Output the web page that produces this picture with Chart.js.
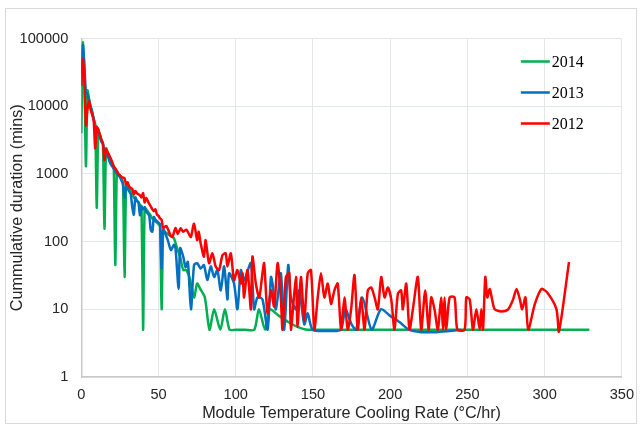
<!DOCTYPE html>
<html>
<head>
<meta charset="utf-8">
<script src="https://cdn.jsdelivr.net/npm/chart.js@4.4.1/dist/chart.umd.min.js"></script>
<style>
  html, body { margin: 0; padding: 0; background: #fff; }
  #wrap { width: 643px; height: 429px; }
</style>
</head>
<body>
<div id="wrap"><canvas id="chart" width="643" height="429"></canvas></div>
<script>
// Cumulative duration vs module temperature cooling rate, per year

const seriesLabels = ['2014', '2013', '2012'];
const seriesColors = ['#00b050', '#0070c0', '#ff0000'];

const xTicks = [0, 50, 100, 150, 200, 250, 300, 350];
const yTicks = [1, 10, 100, 1000, 10000, 100000];

const x2014 = [0,1,2,3,4,5,6,7,8,9,10,11,12,13,14,15,16,17,18,19,20,21,22,23,24,25,26,27,28,29,30,31,32,33,34,35,36,37,38,39,40,41,42,43,44,45,46,47,48,49,50,51,52,53,54,
  56,58,60,62,64,66,68,70,73,75,77,80,83,86,90,93,96,100,106,112,115,119,122,128,134,140,146,150,200,250,300,329];
const y2014 = [4000,87000,30000,1300,17000,13000,10000,8500,6500,5500,316,4500,3800,3200,2800,155,2400,2100,1800,1600,1400,1300,45,1100,1000,950,850,750,30,700,650,600,550,500,450,420,400,380,350,330,5,320,300,280,260,240,220,210,200,190,180,170,10,147,140,
  130,120,112,80,60,38,38,30,15,24,20,15,5,10,5,10,5,5,5,5,10,5,10,8,6.5,5.5,5,5,5,5,5,5];

const x2013 = [0,1,2,3,4,5,6,7,8,9,10,11,12,13,14,15,16,17,18,19,20,21,22,23,24,25,26,27,28,29,30,31,32,33,34,35,36,37,38,39,40,41,42,43,44,45,46,47,48,49,50,51,52,53,
  56,58,60,61,63,64,66,67.5,69,71,73,75,77.3,79.4,81.6,83.8,86,88.1,90.3,92.5,94.6,95.7,98.9,101.1,103.3,105.4,109.8,111.9,114.1,117.3,120.6,122.8,123.8,126,129.2,131.4,134,135.7,139,141.1,144.4,146.6,149.8,
  160,168,171,175,178,182,188,194,200,206,212,220,230,240,246];
const y2013 = [30000,80000,40000,16000,15000,12000,10000,8000,6500,5000,5000,4200,3500,3000,2800,2200,2200,1900,1600,1400,1300,1200,1100,1000,950,900,800,700,440,650,600,550,500,325,250,450,400,380,245,330,300,320,280,260,240,147,140,230,210,200,190,180,40,150,
  105,75,90,80,20,80,60,42,50,10,45,48,40,45,27,43,30,38,19,43,14,34,24,10,38,27,48,10,15,14,5,30,24,10,34,5,45,15,10,19,6,8.7,5,
  4.8,5,10,6,5,15,5,10,8,6.5,5,4.6,4.6,4.8,5];

const x2012 = [0,1,2,3,4,5,6,7,8,9,10,11,12,13,14,15,16,17,18,19,20,21,22,23,24,25,26,27,28,29,30,31,32,33,34,35,36,37,38,39,40,41,42,43,44,45,46,47,48,49,50,51,52,53,
  55,57.8,59,61,62.5,64.3,66,68,70,71,73,75,76,77.3,79.4,80.5,82.7,84.9,87,89.2,91.4,93.5,94.6,96.8,98.9,101.1,103.3,104.4,105.4,107.6,109.8,110.8,113,115.2,117.3,118.4,
  120.6,122.8,124.9,127.1,129.2,130.3,132.5,134.7,135.7,139,140,142.2,144.4,146.6,148.7,150.9,153.1,155.2,157.4,159.6,161.7,163.9,166,168.2,170.4,172.5,174.7,176.9,179,
  181.2,183.4,185.5,187.7,189.9,192,194.2,196.4,198.5,200.7,202.8,205,207.1,208.2,210.4,212.5,214.7,217.9,220.1,222.7,224.9,226.6,228.7,230.9,233,234.2,235.2,236.3,238.5,
  241.7,243.5,248.2,249.3,251.5,253.6,255.8,258,259,260.1,261.6,262.9,264.5,266,267.7,272,276.4,279.6,281.8,284,285.5,287.6,289.4,293.7,298,302.3,307.7,309.3,315.8];
const y2012 = [20000,50000,25000,5200,9000,12000,9000,7500,6200,2400,4900,4500,3800,3200,2800,1600,2300,2100,1900,1700,1500,1300,1200,1100,1000,950,900,880,860,700,750,650,620,600,500,560,520,500,480,450,520,380,440,400,360,330,300,280,300,250,240,220,210,160,
  170,124,117,158,130,158,140,150,125,117,184,105,140,94,60,105,48,67,43,38,63,67,43,67,27,38,24,34,15,38,10,60,24,15,34,48,
  8.7,19,11,48,15,5,30,34,5,30,5.5,30,6.9,34,38,5,15,34,15,24,12,19,24,5,15,5,10,32,5,
  15,5,19,21,15,10,30,15,21,14,5,17,19,10,24,5,10,30,5,19,5,15,10,5,15,5,15,5,15,
  15,5,5,15,14,5,10,5,10,5,30,15,20,14,10,9.3,10,14,20,14,10,15,5,12,20,17,10,4.7,50];

const seriesX = [x2014, x2013, x2012];
const seriesY = [y2014, y2013, y2012];

const FONT = "'Liberation Sans', Arial, sans-serif";
const TEXT = '#262626';

const chartBorder = {
  id: 'chartBorder',
  beforeDraw(chart) {
    const c = chart.ctx;
    c.save();
    c.fillStyle = '#fff';
    c.fillRect(0, 0, chart.width, chart.height);
    c.strokeStyle = '#d9d9d9';
    c.lineWidth = 1;
    c.strokeRect(5.5, 8.5, 631, 415);
    c.restore();
  }
};

// legend drawn inside the plot, top right, like the original
const insideLegend = {
  id: 'insideLegend',
  afterDraw(chart) {
    const c = chart.ctx;
    const area = chart.chartArea;
    const x0 = area.right - 101;
    let y = area.top + 23;
    c.save();
    c.font = "16px 'Liberation Serif', 'Times New Roman', serif";
    c.textBaseline = 'middle';
    c.textAlign = 'left';
    seriesLabels.forEach((lab, i) => {
      c.strokeStyle = seriesColors[i];
      c.lineWidth = 2.5;
      c.beginPath();
      c.moveTo(x0, y);
      c.lineTo(x0 + 29, y);
      c.stroke();
      c.fillStyle = '#000';
      c.fillText(lab, x0 + 31, y + 1);
      y += 31;
    });
    c.restore();
  }
};

const datasets = seriesLabels.map((lab, i) => ({
  label: lab,
  data: seriesX[i].map((x, j) => ({ x: x, y: seriesY[i][j] })),
  borderColor: seriesColors[i],
  backgroundColor: seriesColors[i],
  borderWidth: 2.5,
  pointRadius: 0,
  tension: 0.25,
  fill: false,
  order: 2 - i,
}));

new Chart(document.getElementById('chart'), {
  type: 'line',
  data: { datasets },
  plugins: [chartBorder, insideLegend],
  options: {
    responsive: false,
    animation: false,
    layout: { padding: { left: 0, right: 20.5, top: 38.5, bottom: 6 } },
    plugins: {
      legend: { display: false },
      tooltip: { enabled: false },
    },
    scales: {
      x: {
        type: 'linear',
        min: 0,
        max: 350,
        afterBuildTicks: (s) => { s.ticks = xTicks.map(v => ({ value: v })); },
        afterFit: (s) => { s.height = 46; },
        grid: { color: '#e6e6e6', lineWidth: 1, drawTicks: false },
        border: { display: true, color: '#c9c9c9', width: 1.5 },
        ticks: {
          color: TEXT,
          font: { family: FONT, size: 14.6 },
          padding: 9,
          maxRotation: 0,
        },
        title: {
          display: true,
          text: 'Module Temperature Cooling Rate (°C/hr)',
          color: TEXT,
          font: { family: FONT, size: 16.2 },
          padding: { top: 0, bottom: 0 },
        },
      },
      y: {
        type: 'logarithmic',
        min: 1,
        max: 100000,
        afterBuildTicks: (s) => { s.ticks = yTicks.map(v => ({ value: v })); },
        afterFit: (s) => { s.width = 81.3; },
        grid: { color: '#e2e7ef', lineWidth: 1, drawTicks: false },
        border: { display: true, color: '#c9c9c9', width: 1.5 },
        ticks: {
          color: TEXT,
          font: { family: FONT, size: 14.6 },
          padding: 13,
          callback: (v) => String(v),
        },
        title: {
          display: true,
          text: 'Cummulative duration (mins)',
          color: TEXT,
          font: { family: FONT, size: 16.2 },
          padding: { top: 8, bottom: 0 },
        },
      },
    },
  },
});
</script>
</body>
</html>
